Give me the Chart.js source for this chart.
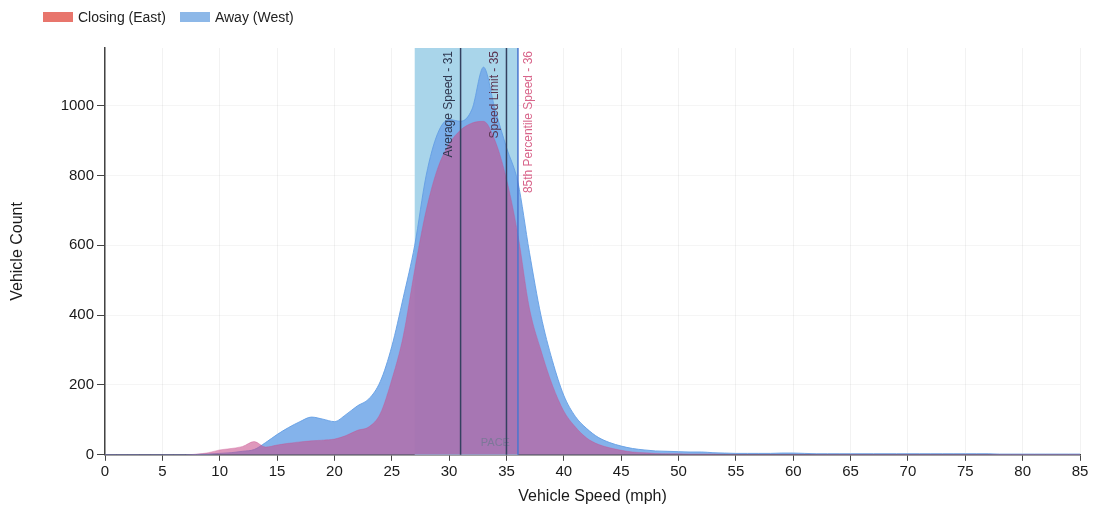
<!DOCTYPE html>
<html>
<head>
<meta charset="utf-8">
<script src="https://cdn.jsdelivr.net/npm/chart.js@4"></script>
<style>
    body { margin: 0; background: #fff; font-family: "Liberation Sans", Arial, sans-serif; }
    #wrap { position: relative; width: 1095px; height: 512px; }
    #legend { position: absolute; left: 43px; top: 9px; display: flex; font-size: 14px; color: #222; }
    #legend .item { display: flex; align-items: center; margin-right: 14px; }
    #legend .swatch { display: inline-block; width: 30px; height: 10px; margin-right: 5px; }
</style>
</head>
<body>
<div id="wrap">
    <div id="legend"></div>
    <canvas id="speedChart" width="1095" height="512"></canvas>
</div>
<script>
// Speed bins (mph) and counts per direction
const speeds = [0, 1, 2, 3, 4, 5, 6, 7, 8, 9, 10, 11, 12, 13, 14, 15, 16, 17, 18, 19,
    20, 21, 22, 23, 24, 25, 26, 27, 28, 29, 30, 31, 32, 33, 34, 35, 36, 37, 38, 39,
    40, 41, 42, 43, 44, 45, 46, 47, 48, 49, 50, 51, 52, 53, 54, 55, 56, 57, 58, 59,
    60, 61, 62, 63, 64, 65, 66, 67, 68, 69, 70, 71, 72, 73, 74, 75, 76, 77, 78, 79,
    80, 81, 82, 83, 84, 85];

const closingEast = [0, 0, 0, 0, 0, 0, 0, 0, 2, 6, 14, 18, 24, 38, 22, 28, 33, 37, 40, 42,
    45, 55, 70, 80, 118, 215, 340, 530, 700, 820, 890, 930, 950, 955, 900, 790, 630, 420, 300, 200,
    125, 80, 48, 30, 20, 13, 8, 6, 4, 3, 3, 2, 2, 2, 1, 1, 1, 1, 1, 1,
    1, 1, 1, 1, 1, 1, 1, 1, 1, 1, 1, 1, 1, 1, 1, 1, 1, 1, 1, 1,
    1, 1, 1, 1, 1, 1];

const awayWest = [0, 0, 0, 0, 0, 0, 0, 0, 1, 2, 4, 6, 10, 15, 35, 58, 78, 95, 108, 102,
    95, 115, 140, 160, 210, 310, 450, 600, 800, 920, 960, 955, 990, 1110, 990, 880, 780, 580, 400, 270,
    170, 110, 75, 50, 35, 25, 18, 14, 11, 10, 9, 8, 8, 6, 5, 4, 4, 4, 4, 5,
    5, 4, 3, 3, 3, 3, 3, 3, 3, 3, 3, 3, 3, 3, 3, 3, 3, 3, 2, 2,
    2, 2, 2, 2, 2, 2];

const seriesNames = ['Closing (East)', 'Away (West)'];
const xTicks = [0, 5, 10, 15, 20, 25, 30, 35, 40, 45, 50, 55, 60, 65, 70, 75, 80, 85];
const yTicks = [0, 200, 400, 600, 800, 1000];

// Reference lines and pace band
const markerSpeeds = [31, 35, 36];
const markerLabels = ['Average Speed - 31', 'Speed Limit - 35', '85th Percentile Speed - 36'];
const paceRange = [27, 36];
const paceLabel = 'PACE';

const FONT = '"Liberation Sans", Arial, sans-serif';
Chart.defaults.font.family = FONT;

const lineColors = ['#34405f', '#34405f', '#4a76cf'];
const labelColors = ['#2f3850', '#5a3450', '#d8648a'];
const labelOffsets = [-12, -12, 11];
const legendColors = ['#e8756c', '#8db8e8'];

const markerPlugin = {
    id: 'speedMarkers',
    beforeDatasetsDraw(chart) {
        const { ctx, chartArea: a, scales: { x } } = chart;
        const x0 = x.getPixelForValue(paceRange[0]);
        const x1 = x.getPixelForValue(paceRange[1]);
        ctx.save();
        ctx.fillStyle = '#a9d5ea';
        ctx.fillRect(x0, a.top, x1 - x0, a.bottom - a.top);
        ctx.restore();
    },
    afterDatasetsDraw(chart) {
        const { ctx, chartArea: a, scales: { x } } = chart;
        ctx.save();
        // pace label at bottom of band
        ctx.font = '11px ' + FONT;
        ctx.fillStyle = 'rgba(120,120,150,0.9)';
        ctx.textAlign = 'right';
        ctx.textBaseline = 'bottom';
        ctx.fillText(paceLabel, x.getPixelForValue(paceRange[1]) - 8, a.bottom - 6);

        markerSpeeds.forEach((v, i) => {
            const px = x.getPixelForValue(v);
            ctx.strokeStyle = lineColors[i];
            ctx.lineWidth = 1.5;
            ctx.beginPath();
            ctx.moveTo(px, a.top);
            ctx.lineTo(px, a.bottom);
            ctx.stroke();

            ctx.save();
            ctx.translate(px + labelOffsets[i], a.top + 3);
            ctx.rotate(-Math.PI / 2);
            ctx.font = '12px ' + FONT;
            ctx.fillStyle = labelColors[i];
            ctx.textAlign = 'right';
            ctx.textBaseline = 'middle';
            ctx.fillText(markerLabels[i], 0, 0);
            ctx.restore();
        });
        ctx.restore();
    }
};

const toPoints = counts => speeds.map((s, i) => ({ x: s, y: counts[i] }));

const speedCtx = document.getElementById('speedChart').getContext('2d');
const speedChart = new Chart(speedCtx, {
    type: 'line',
    data: {
        datasets: [{
            label: seriesNames[0],
            data: toPoints(closingEast),
            backgroundColor: 'rgba(200,78,140,0.58)',
            borderColor: 'rgba(200,78,140,0.35)',
            borderWidth: 1,
            fill: 'origin',
            pointRadius: 0,
            cubicInterpolationMode: 'monotone',
            order: 0
        }, {
            label: seriesNames[1],
            data: toPoints(awayWest),
            backgroundColor: 'rgba(115,168,232,0.88)',
            borderColor: 'rgba(100,158,228,0.9)',
            borderWidth: 1,
            fill: 'origin',
            pointRadius: 0,
            cubicInterpolationMode: 'monotone',
            order: 1
        }]
    },
    options: {
        responsive: false,
        animation: false,
        layout: { padding: { top: 48, right: 15, bottom: 6, left: 0 } },
        plugins: {
            legend: { display: false },
            tooltip: { enabled: false }
        },
        scales: {
            x: {
                type: 'linear',
                min: xTicks[0],
                max: xTicks[xTicks.length - 1],
                afterBuildTicks: scale => { scale.ticks = xTicks.map(v => ({ value: v })); },
                ticks: { color: '#1a1a1a', font: { size: 15 }, padding: 2 },
                grid: { color: 'rgba(0,0,0,0.05)', tickColor: '#444', tickLength: 6 },
                border: { color: '#444', width: 1.5 },
                title: { display: true, text: 'Vehicle Speed (mph)', color: '#1a1a1a', font: { size: 16 }, padding: { top: 4, bottom: 0 } }
            },
            y: {
                min: 0,
                max: 1165,
                afterBuildTicks: scale => { scale.ticks = yTicks.map(v => ({ value: v })); },
                afterFit: scale => { scale.width = 105; },
                ticks: { color: '#1a1a1a', font: { size: 15 }, padding: 3, callback: v => String(v) },
                grid: { color: 'rgba(0,0,0,0.04)', tickColor: '#444', tickLength: 8 },
                border: { color: '#444', width: 1.5 },
                title: { display: true, text: 'Vehicle Count', color: '#1a1a1a', font: { size: 16 }, padding: { top: 8, bottom: 4 } }
            }
        }
    },
    plugins: [markerPlugin]
});

// HTML legend from the chart datasets
const legendEl = document.getElementById('legend');
speedChart.data.datasets.forEach((ds, i) => {
    const item = document.createElement('span');
    item.className = 'item';
    const sw = document.createElement('span');
    sw.className = 'swatch';
    sw.style.background = legendColors[i];
    item.appendChild(sw);
    item.appendChild(document.createTextNode(ds.label));
    legendEl.appendChild(item);
});
</script>
</body>
</html>
